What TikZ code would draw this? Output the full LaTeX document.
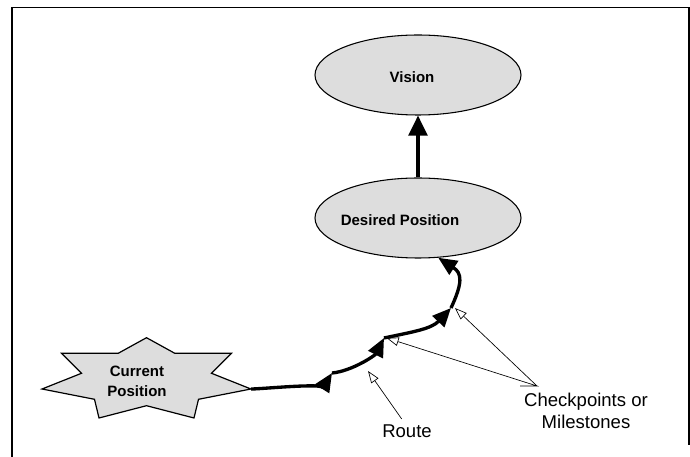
\documentclass[tikz,border=0pt]{standalone}
\usepackage{fontspec}
\setmainfont{Liberation Sans}
\usetikzlibrary{arrows.meta}
\usetikzlibrary{shapes.geometric}
\definecolor{lightgrey}{RGB}{221,221,221}
\tikzset{
  goal/.style={ellipse, draw, fill=lightgrey, line width=0.8pt, minimum width=154.5pt, minimum height=60pt},
  goaltext/.style={font=\bfseries\fontsize{11.25}{15}\selectfont, inner sep=0pt},
  note/.style={font=\fontsize{13.9}{16}\selectfont, inner sep=0pt},
  route/.style={line width=2.5pt, -{Triangle[length=14pt,width=12pt]}},
  callout/.style={line width=0.5pt, -{Triangle[open,length=9pt,width=6.5pt]}},
  frameline/.style={line width=1.3pt}
}
\begin{document}
\begin{tikzpicture}[x=0.75pt,y=0.75pt]
\useasboundingbox (0,0) rectangle (690,457);

\draw[frameline] (12,0) -- (12,449.5) -- (689,449.5) -- (689,12);

	\node[goal] (vision) at (418,382) {};
	\node[goaltext] (visiontext) at (412,380) {Vision};
	\node[goal] (desired) at (418,239) {};
	\node[goaltext] (desiredtext) at (400,237) {Desired Position};
\draw[route, -{Triangle[length=15pt,width=14pt]}] (desired) -- (vision);

 % the star
\draw[fill=lightgrey, line width=0.9pt] (146.5,119.3) -- (174.8,103.7) -- (231.5,103.7) -- (211.5,83.7) -- (251,68) -- (198.5,57.7) -- (194,39) -- (146.5,51.3) -- (99,39) -- (94.5,57.7) -- (42,68) -- (81.5,83.7) -- (61.5,103.7) -- (118.2,103.7) -- cycle;
	\node[goaltext, align=center] (current) at (137,76) {Current\\Position};
	\coordinate (start) at (251,68);

	\coordinate (cp1) at (332,84);
	\coordinate (cp2) at (384,119);
	\coordinate (cp3) at (451,149);
	\coordinate (routetip) at (368,86);
	\coordinate (elbow) at (537,71);
	\coordinate (tail) at (520,71);

\draw[route] (start) to [out=0, in=238, looseness=0.35] (cp1);
\draw[route] (cp1) to [out=5, in=243, looseness=0.8] (cp2);
\draw[route] (cp2) to [out=12, in=227] (cp3);
\draw[route] (cp3) to [out=65, in=-33, looseness=1.4] (desired.-63);

  \node[note] (route) at (407,26) {Route};
  \node[note, align=center] (checks) at (586,46) {Checkpoints or\\Milestones};

\draw[callout] ([xshift=-4pt, yshift=4pt]route.north) -- (routetip);
\draw[callout] (tail) -- (elbow) -- ([xshift=2pt]cp2);
\draw[callout] (elbow) -- ([xshift=3pt]cp3);

\end{tikzpicture}
\end{document}
